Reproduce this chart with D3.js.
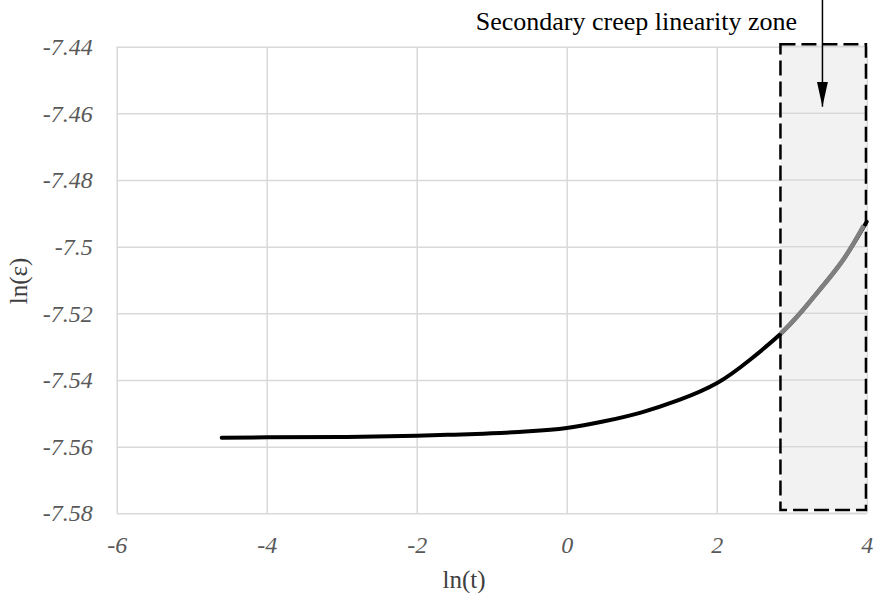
<!DOCTYPE html>
<html lang="en">
<head>
<meta charset="UTF-8">
<title>Creep curve</title>
<script src="https://d3js.org/d3.v7.min.js"></script>
<style>
  body { margin: 0; background: #fff; }
  svg { display: block; font-family: "Liberation Serif", "Times New Roman", serif; }
  .tick text { font-family: "Liberation Serif", "Times New Roman", serif; font-style: italic; fill: #595959; font-size: 24px; }
  .tick line { stroke: #d9d9d9; stroke-width: 1.5px; }
  .domain { display: none; }
  .axis-title { font-size: 25px; fill: #404040; }
</style>
</head>
<body>
<svg width="874" height="593"></svg>
<script>
// ln(t) values and ln(strain)
var lnT = [-4.6, -4, -3, -2, -1.5, -1, -0.5, 0, 0.5, 1, 1.5, 2, 2.44, 2.85, 3.1, 3.4, 3.7, 4.0];
var lnEps = [-7.5573, -7.5572, -7.5571, -7.5567, -7.5564, -7.5560, -7.5554, -7.5544, -7.5524,
             -7.5497, -7.5460, -7.5410, -7.5340, -7.5262, -7.5203, -7.5122, -7.5035, -7.4925];
// grey overlay in the secondary creep zone
var lnTFit = [2.85, 3.1, 3.4, 3.7, 3.96];
var lnEpsFit = [-7.5262, -7.5203, -7.5122, -7.5035, -7.4937];

var xTicks = [-6, -4, -2, 0, 2, 4];
var yTicks = [-7.58, -7.56, -7.54, -7.52, -7.5, -7.48, -7.46, -7.44];

var zoneX = [2.85, 3.99];
var zoneY = [-7.579, -7.4393];
var arrowX = 3.41, arrowTipY = -7.458;
var zoneLabel = 'Secondary creep linearity zone';

var margin = {top: 46.7, left: 116.7, right: 7.3, bottom: 79.7};
var width = 874 - margin.left - margin.right;
var height = 593 - margin.top - margin.bottom;

var svg = d3.select('svg');
var g = svg.append('g').attr('transform', `translate(${margin.left},${margin.top})`);

var x = d3.scaleLinear().domain([-6, 4]).range([0, width]);
var y = d3.scaleLinear().domain([-7.58, -7.44]).range([height, 0]);

var fmt = d => String(+d.toFixed(2));

// grid + y axis
g.append('g')
  .call(d3.axisLeft(y).tickValues(yTicks).tickSize(-width).tickPadding(24).tickFormat(fmt));

// grid + x axis
var xAxis = g.append('g')
  .attr('transform', `translate(0,${height})`)
  .call(d3.axisBottom(x).tickValues(xTicks).tickSize(-height).tickFormat(fmt));
xAxis.selectAll('text').attr('y', 40).attr('dy', 0);

// shaded zone
g.append('rect')
  .attr('x', x(zoneX[0]))
  .attr('y', y(zoneY[1]))
  .attr('width', x(zoneX[1]) - x(zoneX[0]))
  .attr('height', y(zoneY[0]) - y(zoneY[1]))
  .attr('fill', '#f2f2f2');

// grid lines show through the fill
g.append('g')
  .selectAll('line')
  .data(yTicks)
  .enter().append('line')
  .attr('x1', x(zoneX[0])).attr('x2', x(zoneX[1]))
  .attr('y1', d => y(d)).attr('y2', d => y(d))
  .attr('stroke', '#d9d9d9').attr('stroke-width', 1.5);

var line = d3.line()
  .x(d => x(d[0]))
  .y(d => y(d[1]))
  .curve(d3.curveNatural);

g.append('path')
  .datum(d3.zip(lnT, lnEps))
  .attr('d', line)
  .attr('fill', 'none')
  .attr('stroke', '#000')
  .attr('stroke-width', 4)
  .attr('stroke-linecap', 'round');

g.append('path')
  .datum(d3.zip(lnTFit, lnEpsFit))
  .attr('d', line)
  .attr('fill', 'none')
  .attr('stroke', '#7f7f7f')
  .attr('stroke-width', 4.6);

// dashed border of zone
g.append('rect')
  .attr('x', x(zoneX[0]))
  .attr('y', y(zoneY[1]))
  .attr('width', x(zoneX[1]) - x(zoneX[0]))
  .attr('height', y(zoneY[0]) - y(zoneY[1]))
  .attr('fill', 'none')
  .attr('stroke', '#000')
  .attr('stroke-width', 2.5)
  .attr('stroke-dasharray', '15,6');

// arrow
svg.append('defs').append('marker')
  .attr('id', 'arrow')
  .attr('viewBox', '0 0 20 10')
  .attr('preserveAspectRatio', 'none')
  .attr('refX', 20).attr('refY', 5)
  .attr('markerWidth', 25).attr('markerHeight', 11)
  .attr('markerUnits', 'userSpaceOnUse')
  .attr('orient', 'auto')
  .append('path')
  .attr('d', 'M0,0 L20,5 L0,10 Z')
  .attr('fill', '#000');

svg.append('line')
  .attr('x1', margin.left + x(arrowX)).attr('x2', margin.left + x(arrowX))
  .attr('y1', 0).attr('y2', margin.top + y(arrowTipY))
  .attr('stroke', '#000').attr('stroke-width', 1.5)
  .attr('marker-end', 'url(#arrow)');

svg.append('text')
  .attr('x', 797).attr('y', 30)
  .attr('text-anchor', 'end')
  .style('font-size', '26px')
  .attr('fill', '#000')
  .text(zoneLabel);

// axis titles
svg.append('text')
  .attr('class', 'axis-title')
  .attr('x', 464).attr('y', 588)
  .attr('text-anchor', 'middle')
  .text('ln(t)');

svg.append('text')
  .attr('class', 'axis-title')
  .attr('transform', 'translate(27,281) rotate(-90)')
  .attr('text-anchor', 'middle')
  .text('ln(ε)');
</script>
</body>
</html>
